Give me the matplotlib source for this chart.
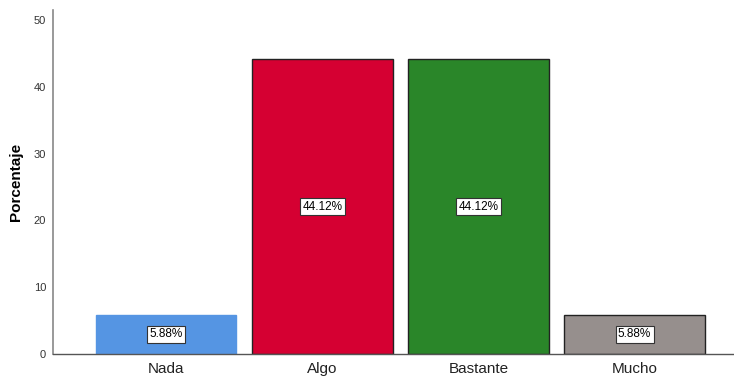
import matplotlib
matplotlib.use("Agg")
import matplotlib.pyplot as plt

plt.rcParams['font.family'] = ['Liberation Sans', 'DejaVu Sans']

categories = ["Nada", "Algo", "Bastante", "Mucho"]
values = [5.88, 44.12, 44.12, 5.88]
labels = ["5.88%", "44.12%", "44.12%", "5.88%"]
colors = ["#5595E3", "#D50032", "#2A8629", "#968F8D"]
edges = ["#5595E3", "#222222", "#222222", "#222222"]
yticks = [0, 10, 20, 30, 40, 50]

fig = plt.figure(figsize=(7.34, 3.79), dpi=100)
ax = fig.add_axes([53/734, 25/379, 680/734, 344/379])

x = list(range(len(categories)))
ax.bar(x, values, width=0.9, color=colors, edgecolor=edges, linewidth=1.0, zorder=2)

for xi, v, lab in zip(x, values, labels):
    ax.text(xi, v/2, lab, ha='center', va='center', fontsize=8.5, color='black',
            bbox=dict(boxstyle='square,pad=0.2', facecolor='white', edgecolor='#333333', linewidth=0.8),
            zorder=3)

ax.set_xlim(-0.724, 3.63)
ax.set_ylim(0, 51.5)
ax.set_yticks(yticks)
ax.set_xticks(x)
ax.set_xticklabels(categories, fontsize=11, color='#222222')
ax.tick_params(axis='y', labelsize=8, colors='#333333', length=0, pad=5)
ax.tick_params(axis='x', length=0, pad=6)
ax.set_ylabel("Porcentaje", fontsize=11, fontweight='bold')
ax.yaxis.set_label_coords(-30/680, 0.5)

for s in ['top', 'right']:
    ax.spines[s].set_visible(False)
ax.spines['left'].set_color('#888888')
ax.spines['bottom'].set_color('#555555')
ax.spines['left'].set_linewidth(1.2)
ax.spines['bottom'].set_linewidth(1.0)

fig.savefig("out.png", dpi=100)
